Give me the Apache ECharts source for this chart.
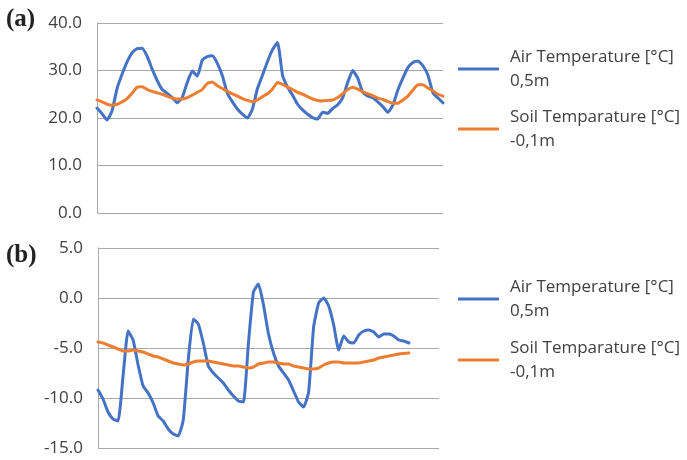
<!DOCTYPE html>
<html>
<head>
<meta charset="utf-8">
<script src="https://cdn.jsdelivr.net/npm/echarts@6/dist/echarts.min.js"></script>
<style>
  html, body { margin: 0; padding: 0; background: #ffffff; }
  #chart { width: 687px; height: 460px; }
</style>
</head>
<body>
<div id="chart"></div>
<script>
// ---- Data ----
// Panel (a): summer period, values in °C
const airA = [
  22.1, 20.9, 19.6, 21.5, 26.2, 29.2, 31.8, 33.7, 34.6, 34.7,
  33.0, 30.3, 27.9, 26.0, 25.2, 24.3, 23.2, 24.3, 27.5, 29.9,
  28.8, 32.2, 32.9, 33.1, 31.5, 28.9, 25.2, 23.4, 21.9, 20.8,
  20.0, 21.9, 26.2, 29.0, 31.9, 34.4, 35.9, 29.0, 26.5, 24.8,
  22.9, 21.7, 20.8, 20.1, 19.8, 21.2, 21.0, 22.0, 22.8, 24.3,
  27.5, 30.0, 28.4, 25.4, 24.6, 24.3, 23.4, 22.4, 21.2, 22.7,
  25.9, 28.4, 30.6, 31.7, 32.0, 31.0, 29.0, 25.3, 24.2, 23.2
];
const soilA = [
  23.8, 23.4, 22.9, 22.7, 22.9, 23.4, 24.1, 25.2, 26.5, 26.6,
  26.0, 25.6, 25.3, 25.0, 24.6, 24.2, 24.0, 24.0, 24.3, 24.8,
  25.4, 26.0, 27.3, 27.6, 26.8, 26.2, 25.6, 25.1, 24.6, 24.1,
  23.7, 23.4, 23.8, 24.5, 25.1, 26.1, 27.5, 27.1, 26.5, 26.0,
  25.4, 25.0, 24.5, 24.0, 23.7, 23.6, 23.7, 23.8, 24.3, 25.1,
  26.0, 26.5, 26.1, 25.5, 25.1, 24.7, 24.2, 23.9, 23.5, 23.1,
  23.1, 23.8, 24.6, 25.9, 27.0, 27.0, 26.3, 25.7, 25.0, 24.6
];
// Panel (b): winter period, values in °C
const airB = [
  -9.2, -10.1, -11.4, -12.1, -12.3, -7.8, -3.3, -4.2, -6.7, -8.8,
  -9.5, -10.5, -11.8, -12.3, -13.1, -13.6, -13.8, -12.2, -6.2, -2.1,
  -2.6, -4.5, -6.8, -7.5, -8.0, -8.5, -9.2, -9.8, -10.3, -10.4,
  -4.5, 0.6, 1.4, -0.7, -3.6, -5.5, -6.8, -7.5, -8.2, -9.3,
  -10.4, -10.9, -9.4, -2.9, -0.5, 0.0, -0.8, -2.7, -5.2, -3.8,
  -4.4, -4.5, -3.7, -3.3, -3.2, -3.4, -3.9, -3.6, -3.6, -3.8,
  -4.2, -4.3, -4.5
];
const soilB = [
  -4.4, -4.5, -4.7, -4.9, -5.1, -5.3, -5.3, -5.2, -5.3, -5.4,
  -5.6, -5.8, -5.9, -6.1, -6.3, -6.5, -6.6, -6.7, -6.6, -6.4,
  -6.3, -6.3, -6.3, -6.4, -6.5, -6.6, -6.7, -6.8, -6.8, -6.9,
  -7.0, -6.9, -6.6, -6.5, -6.4, -6.4, -6.5, -6.6, -6.6, -6.8,
  -6.9, -7.0, -7.1, -7.1, -7.0, -6.7, -6.5, -6.4, -6.4, -6.5,
  -6.5, -6.5, -6.5, -6.4, -6.3, -6.2, -6.0, -5.9, -5.8, -5.7,
  -5.6, -5.55, -5.5
];
// sample indices (time steps) along the x axes
const stepsA = Array.from({ length: 70 }, (_, i) => i);
const stepsB = Array.from({ length: 69 }, (_, i) => i);
// tick settings
const ticksA = { min: 0, max: 40, interval: 10 };
const ticksB = { min: -15, max: 5, interval: 5 };

const airName = 'Air Temperature [°C]\n0,5m';
const soilName = 'Soil Temparature [°C]\n-0,1m';

const BLUE = '#4472C4';
const ORANGE = '#ED7D31';
const GRID = '#a9a9a9';
const TEXT = '#404040';

const chart = echarts.init(document.getElementById('chart'), null, { renderer: 'canvas' });

function yAxis(gridIndex, t) {
  return {
    type: 'value', gridIndex,
    min: t.min, max: t.max, interval: t.interval,
    axisLine: { show: true, lineStyle: { color: GRID, width: 1 } },
    axisTick: { show: false },
    splitLine: { show: true, lineStyle: { color: GRID, width: 1 } },
    axisLabel: {
      margin: 15, color: TEXT, fontSize: 17, fontFamily: 'Open Sans',
      formatter: v => v.toFixed(1)
    }
  };
}
function xAxis(gridIndex, cats) {
  return {
    type: 'category', gridIndex, data: cats, boundaryGap: false,
    axisLine: { show: false }, axisTick: { show: false },
    axisLabel: { show: false }, splitLine: { show: false }
  };
}
function legend(name, color, top) {
  return {
    data: [{ name, icon: 'rect', itemStyle: { color } }],
    left: 458, top, padding: 0,
    itemWidth: 41, itemHeight: 3,
    textStyle: {
      color: TEXT, fontSize: 17, fontFamily: 'Open Sans',
      lineHeight: 24, padding: [24, 0, 0, 6]
    },
    selectedMode: false
  };
}
function line(name, color, xi, data) {
  return {
    name, type: 'line', xAxisIndex: xi, yAxisIndex: xi, data,
    showSymbol: false, symbol: 'none', smooth: 0.15,
    lineStyle: { color, width: 3, cap: 'round', join: 'round' },
    itemStyle: { color },
    connectNulls: false, animation: false
  };
}

chart.setOption({
  animation: false,
  title: [
    { text: '(a)', left: 6, top: 7, padding: 0,
      textStyle: { fontFamily: 'Liberation Serif', fontWeight: 'bold', fontSize: 25, color: '#222' } },
    { text: '(b)', left: 6, top: 243, padding: 0,
      textStyle: { fontFamily: 'Liberation Serif', fontWeight: 'bold', fontSize: 25, color: '#222' } }
  ],
  grid: [
    { left: 97, top: 23, width: 346, height: 190 },
    { left: 98, top: 248, width: 341, height: 200 }
  ],
  xAxis: [xAxis(0, stepsA), xAxis(1, stepsB)],
  yAxis: [yAxis(0, ticksA), yAxis(1, ticksB)],
  legend: [
    legend(airName, BLUE, 33),
    legend(soilName, ORANGE, 93),
    legend(airName, BLUE, 263),
    legend(soilName, ORANGE, 324)
  ],
  series: [
    line(airName, BLUE, 0, airA),
    line(soilName, ORANGE, 0, soilA),
    line(airName, BLUE, 1, airB),
    line(soilName, ORANGE, 1, soilB)
  ]
});
</script>
</body>
</html>
